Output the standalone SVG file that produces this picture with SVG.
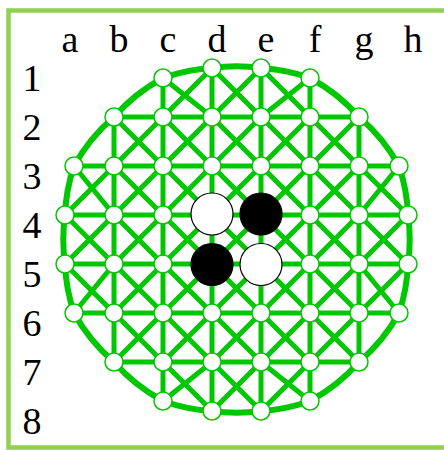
<svg xmlns="http://www.w3.org/2000/svg" width="444" height="450" viewBox="0 0 444 450">
<style>
.frame{fill:none;stroke:#92d050;stroke-width:4.5}
.grid{fill:none;stroke:#00c800;stroke-width:5;stroke-linecap:butt}
.rim{fill:none;stroke:#00c800;stroke-width:6}
.pt{fill:#fff;stroke:#00c800;stroke-width:1.5}
.w{fill:#fff;stroke:#000;stroke-width:1.2}
.b{fill:#000;stroke:#000;stroke-width:1.2}
.lbl{font-family:"Liberation Serif","Times New Roman",serif;font-size:38px;fill:#000;text-anchor:middle}
</style>
<rect class="frame" x="8.5" y="10.5" width="445" height="437"/>
<g id="labels">
<text class="lbl" x="70" y="51.5">a</text>
<text class="lbl" x="119" y="51.5">b</text>
<text class="lbl" x="168" y="51.5">c</text>
<text class="lbl" x="217" y="51.5">d</text>
<text class="lbl" x="266" y="51.5">e</text>
<text class="lbl" x="315" y="51.5">f</text>
<text class="lbl" x="364" y="51.5">g</text>
<text class="lbl" x="413" y="51.5">h</text>
<text class="lbl" x="32" y="91">1</text>
<text class="lbl" x="32" y="140">2</text>
<text class="lbl" x="32" y="189">3</text>
<text class="lbl" x="32" y="238">4</text>
<text class="lbl" x="32" y="287">5</text>
<text class="lbl" x="32" y="336">6</text>
<text class="lbl" x="32" y="385">7</text>
<text class="lbl" x="32" y="434">8</text>
</g>
<g id="connectors">
<path id="rim" class="rim" d="M212 68A175 175 0 0 1 261 68A175 175 0 0 1 310 78A175 175 0 0 1 359 117A175 175 0 0 1 399 166A175 175 0 0 1 408 215A175 175 0 0 1 408 264A175 175 0 0 1 399 313A175 175 0 0 1 359 362A175 175 0 0 1 310 401A175 175 0 0 1 261 411A175 175 0 0 1 212 411A175 175 0 0 1 163 401A175 175 0 0 1 114 362A175 175 0 0 1 74 313A175 175 0 0 1 65 264A175 175 0 0 1 65 215A175 175 0 0 1 74 166A175 175 0 0 1 114 117A175 175 0 0 1 163 78A175 175 0 0 1 212 68Z"/>
<path id="rows" class="grid" d="M114 117H359M74 166H399M65 215H408M65 264H408M74 313H399M114 362H359"/>
<path id="cols" class="grid" d="M114 117V362M163 78V401M212 68V411M261 68V411M310 78V401M359 117V362"/>
<path id="diag12" class="grid" d="M163 78L212 117M212 68L163 117M212 68L261 117M261 68L212 117M261 68L310 117M310 78L261 117"/>
<path id="diag23" class="grid" d="M114 117L163 166M163 117L114 166M163 117L212 166M212 117L163 166M212 117L261 166M261 117L212 166M261 117L310 166M310 117L261 166M310 117L359 166M359 117L310 166"/>
<path id="diag34" class="grid" d="M74 166L114 215M114 166L65 215M114 166L163 215M163 166L114 215M163 166L212 215M212 166L163 215M212 166L261 215M261 166L212 215M261 166L310 215M310 166L261 215M310 166L359 215M359 166L310 215M359 166L408 215M399 166L359 215"/>
<path id="diag45" class="grid" d="M65 215L114 264M114 215L65 264M114 215L163 264M163 215L114 264M163 215L212 264M212 215L163 264M212 215L261 264M261 215L212 264M261 215L310 264M310 215L261 264M310 215L359 264M359 215L310 264M359 215L408 264M408 215L359 264"/>
<path id="diag56" class="grid" d="M65 264L114 313M114 264L74 313M114 264L163 313M163 264L114 313M163 264L212 313M212 264L163 313M212 264L261 313M261 264L212 313M261 264L310 313M310 264L261 313M310 264L359 313M359 264L310 313M359 264L399 313M408 264L359 313"/>
<path id="diag67" class="grid" d="M114 313L163 362M163 313L114 362M163 313L212 362M212 313L163 362M212 313L261 362M261 313L212 362M261 313L310 362M310 313L261 362M310 313L359 362M359 313L310 362"/>
<path id="diag78" class="grid" d="M163 362L212 411M212 362L163 401M212 362L261 411M261 362L212 411M261 362L310 401M310 362L261 411"/>
</g>
<g id="nodes">
<g id="c1"><circle class="pt" cx="163" cy="78" r="9"/></g>
<g id="d1"><circle class="pt" cx="212" cy="68" r="9"/></g>
<g id="e1"><circle class="pt" cx="261" cy="68" r="9"/></g>
<g id="f1"><circle class="pt" cx="310" cy="78" r="9"/></g>
<g id="b2"><circle class="pt" cx="114" cy="117" r="9"/></g>
<g id="c2"><circle class="pt" cx="163" cy="117" r="9"/></g>
<g id="d2"><circle class="pt" cx="212" cy="117" r="9"/></g>
<g id="e2"><circle class="pt" cx="261" cy="117" r="9"/></g>
<g id="f2"><circle class="pt" cx="310" cy="117" r="9"/></g>
<g id="g2"><circle class="pt" cx="359" cy="117" r="9"/></g>
<g id="a3"><circle class="pt" cx="74" cy="166" r="9"/></g>
<g id="b3"><circle class="pt" cx="114" cy="166" r="9"/></g>
<g id="c3"><circle class="pt" cx="163" cy="166" r="9"/></g>
<g id="d3"><circle class="pt" cx="212" cy="166" r="9"/></g>
<g id="e3"><circle class="pt" cx="261" cy="166" r="9"/></g>
<g id="f3"><circle class="pt" cx="310" cy="166" r="9"/></g>
<g id="g3"><circle class="pt" cx="359" cy="166" r="9"/></g>
<g id="h3"><circle class="pt" cx="399" cy="166" r="9"/></g>
<g id="a4"><circle class="pt" cx="65" cy="215" r="9"/></g>
<g id="b4"><circle class="pt" cx="114" cy="215" r="9"/></g>
<g id="c4"><circle class="pt" cx="163" cy="215" r="9"/></g>
<g id="d4"><circle class="w" cx="212" cy="214" r="21"/></g>
<g id="e4"><circle class="b" cx="261" cy="214" r="21"/></g>
<g id="f4"><circle class="pt" cx="310" cy="215" r="9"/></g>
<g id="g4"><circle class="pt" cx="359" cy="215" r="9"/></g>
<g id="h4"><circle class="pt" cx="408" cy="215" r="9"/></g>
<g id="a5"><circle class="pt" cx="65" cy="264" r="9"/></g>
<g id="b5"><circle class="pt" cx="114" cy="264" r="9"/></g>
<g id="c5"><circle class="pt" cx="163" cy="264" r="9"/></g>
<g id="d5"><circle class="b" cx="212" cy="264.5" r="21"/></g>
<g id="e5"><circle class="w" cx="261" cy="264.5" r="21"/></g>
<g id="f5"><circle class="pt" cx="310" cy="264" r="9"/></g>
<g id="g5"><circle class="pt" cx="359" cy="264" r="9"/></g>
<g id="h5"><circle class="pt" cx="408" cy="264" r="9"/></g>
<g id="a6"><circle class="pt" cx="74" cy="313" r="9"/></g>
<g id="b6"><circle class="pt" cx="114" cy="313" r="9"/></g>
<g id="c6"><circle class="pt" cx="163" cy="313" r="9"/></g>
<g id="d6"><circle class="pt" cx="212" cy="313" r="9"/></g>
<g id="e6"><circle class="pt" cx="261" cy="313" r="9"/></g>
<g id="f6"><circle class="pt" cx="310" cy="313" r="9"/></g>
<g id="g6"><circle class="pt" cx="359" cy="313" r="9"/></g>
<g id="h6"><circle class="pt" cx="399" cy="313" r="9"/></g>
<g id="b7"><circle class="pt" cx="114" cy="362" r="9"/></g>
<g id="c7"><circle class="pt" cx="163" cy="362" r="9"/></g>
<g id="d7"><circle class="pt" cx="212" cy="362" r="9"/></g>
<g id="e7"><circle class="pt" cx="261" cy="362" r="9"/></g>
<g id="f7"><circle class="pt" cx="310" cy="362" r="9"/></g>
<g id="g7"><circle class="pt" cx="359" cy="362" r="9"/></g>
<g id="c8"><circle class="pt" cx="163" cy="401" r="9"/></g>
<g id="d8"><circle class="pt" cx="212" cy="411" r="9"/></g>
<g id="e8"><circle class="pt" cx="261" cy="411" r="9"/></g>
<g id="f8"><circle class="pt" cx="310" cy="401" r="9"/></g>
</g>
</svg>
